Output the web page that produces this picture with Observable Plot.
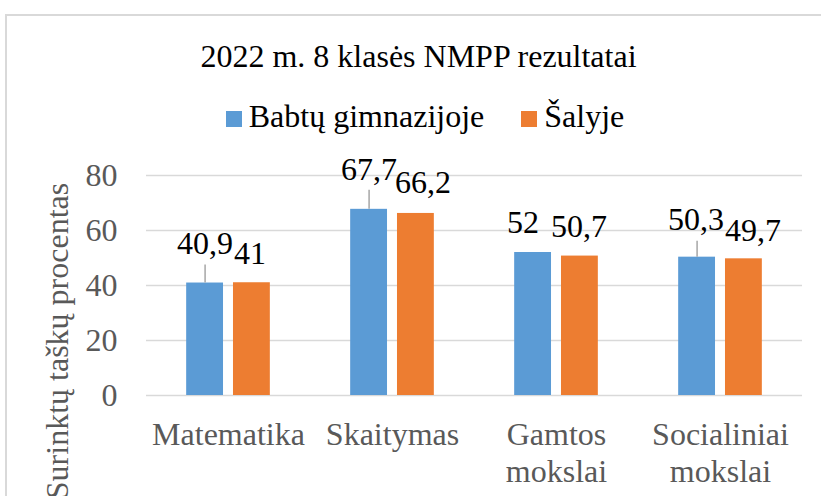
<!DOCTYPE html>
<html>
<head>
<meta charset="utf-8">
<script src="https://cdn.jsdelivr.net/npm/d3@7"></script>
<script src="https://cdn.jsdelivr.net/npm/@observablehq/plot@0.6"></script>
<style>
html, body { margin: 0; padding: 0; background: #fff; overflow: hidden; width: 821px; height: 496px; }
body, body * { font-family: "Liberation Serif", "Times New Roman", serif; }
body { position: relative; }
#frame { position: absolute; left: 5px; top: 14px; width: 900px; height: 600px; border: 2px solid #d9d9d9; box-sizing: border-box; }
#title { position: absolute; left: 0; top: 40px; width: 837px; text-align: center; font-size: 32px; line-height: 32px; color: #000; white-space: nowrap; }
#legend { position: absolute; left: 0; top: 100px; width: 850px; display: flex; justify-content: center; font-size: 32px; line-height: 32px; color: #000; white-space: nowrap; }
.item { display: flex; align-items: baseline; }
.item + .item { margin-left: 37px; }
.sw { display: inline-block; width: 16px; height: 16px; margin-right: 7px; }
#ylabel { position: absolute; left: 57px; top: 341px; transform: translate(-50%, -50%) rotate(-90deg); font-size: 32px; line-height: 32px; color: #595959; white-space: nowrap; }
#chart { position: absolute; left: 0; top: 140px; }
</style>
</head>
<body>
<div id="frame"></div>
<div id="title"></div>
<div id="legend"></div>
<div id="chart"></div>
<div id="ylabel"></div>
<script>
// ---- data ----
const chartTitle = "2022 m. 8 klasės NMPP rezultatai";
const yAxisLabel = "Surinktų taškų procentas";
const categories = ["Matematika", "Skaitymas", "Gamtos mokslai", "Socialiniai mokslai"];
const categoryTickLabels = ["Matematika", "Skaitymas", "Gamtos\nmokslai", "Socialiniai\nmokslai"];
const seriesNames = ["Babtų gimnazijoje", "Šalyje"];
const babtuValues = [40.9, 67.7, 52, 50.3];
const salyjeValues = [41, 66.2, 50.7, 49.7];
const yTicks = [0, 20, 40, 60, 80];

// ---- layout / style (not data) ----
const FONT = '"Liberation Serif", "Times New Roman", serif';
const seriesColors = ["#5B9BD5", "#ED7D31"];
// value-label nudges in px [dx, dy], per series, per category (labels moved like in the original)
const labelNudge = [
  [[0, -29], [0, -29], [-10, -20], [-1, -27]],
  [[-2, -19], [7, -20], [-1, -19], [9, -18]]
];
// leader line lengths in px for the first series' moved labels
const leaderPx = [18, 19, 0, 16];

const H = 356, MT = 35, MB = 101;
const pxPerUnit = (H - MT - MB) / (yTicks[yTicks.length - 1] - yTicks[0]);

const data = categories.flatMap((c, i) => [
  {cat: c, series: seriesNames[0], s: 0, i, value: babtuValues[i]},
  {cat: c, series: seriesNames[1], s: 1, i, value: salyjeValues[i]}
]);
const fmt = v => String(v).replace(".", ",");

document.getElementById("title").textContent = chartTitle;
document.getElementById("ylabel").textContent = yAxisLabel;
const legend = document.getElementById("legend");
seriesNames.forEach((s, k) => {
  const item = document.createElement("div");
  item.className = "item";
  const sw = document.createElement("span");
  sw.className = "sw";
  sw.style.background = seriesColors[k];
  const t = document.createElement("span");
  t.textContent = s;
  item.append(sw, t);
  legend.append(item);
});

const chart = Plot.plot({
  width: 821,
  height: H,
  marginLeft: 144,
  marginRight: 18,
  marginTop: MT,
  marginBottom: MB,
  style: {fontFamily: FONT, fontSize: "32px", background: "transparent", overflow: "visible"},
  fx: {domain: categories, paddingInner: 0, paddingOuter: 0, axis: null, label: null},
  x: {domain: seriesNames, paddingInner: 0.213, paddingOuter: 0.858, round: false, axis: null},
  y: {domain: [yTicks[0], yTicks[yTicks.length - 1]]},
  color: {domain: seriesNames, range: seriesColors},
  marks: [
    Plot.ruleY(yTicks, {stroke: "#d9d9d9", strokeWidth: 1.5}),
    Plot.axisY({ticks: yTicks, tickSize: 0, tickPadding: 29, color: "#595959", label: null, fontFamily: FONT}),
    Plot.barY(data, {fx: "cat", x: "series", y: "value", fill: "series"}),
    Plot.ruleX(data.filter(d => d.s === 0 && leaderPx[d.i] > 0), {
      fx: "cat", x: "series", y1: "value", y2: d => d.value + leaderPx[d.i] / pxPerUnit,
      stroke: "#a6a6a6", strokeWidth: 1.5
    }),
    ...data.map(d => Plot.text([d], {
      fx: "cat", x: "series", y: "value", text: d => fmt(d.value),
      lineAnchor: "bottom", dx: labelNudge[d.s][d.i][0], dy: labelNudge[d.s][d.i][1],
      fill: "#000", fontSize: 32, fontFamily: FONT
    })),
    Plot.text(categories.map((c, i) => ({cat: c, label: categoryTickLabels[i]})), {
      fx: "cat", text: "label", frameAnchor: "bottom", lineAnchor: "top", dy: 23,
      lineHeight: 1.156, fill: "#595959", fontSize: 32, fontFamily: FONT
    })
  ]
});
document.getElementById("chart").append(chart);
</script>
</body>
</html>
